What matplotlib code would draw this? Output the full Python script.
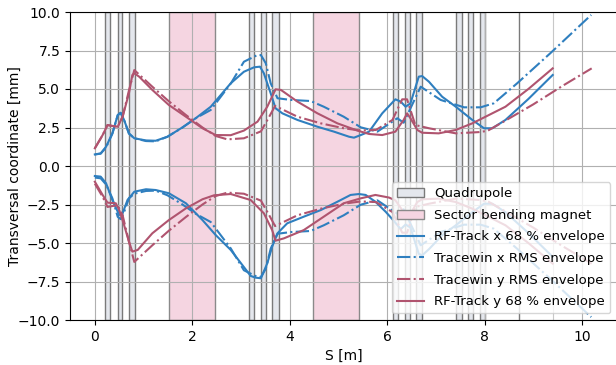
import matplotlib
matplotlib.use("Agg")
import matplotlib.pyplot as plt
import numpy as np

# element positions along the line [m]
quad_start = [0.21, 0.47, 0.70, 3.17, 3.41, 3.64, 6.12, 6.37, 6.60, 7.42, 7.67, 7.90, 8.71]
quad_end = [0.31, 0.55, 0.82, 3.27, 3.51, 3.78, 6.22, 6.46, 6.71, 7.53, 7.76, 8.01, 8.71]
bend_start = [1.52, 4.47]
bend_end = [2.46, 5.42]

# RF-Track x, 68 % envelope (upper / lower)
rfx_up_s = [0.0, 0.12, 0.23, 0.36, 0.47, 0.53, 0.60, 0.70, 0.81, 1.05, 1.25, 1.49, 1.80, 2.07, 2.38,
            2.79, 3.06, 3.27, 3.39, 3.47, 3.61, 3.71, 3.85, 4.16, 4.57, 4.91, 5.22, 5.32, 5.46, 5.63,
            5.90, 6.17, 6.28, 6.38, 6.48, 6.65, 6.72, 6.86, 7.13, 7.41, 7.75, 7.99, 8.16, 8.43, 8.90, 9.40]
rfx_up = [0.75, 0.82, 1.25, 2.12, 3.31, 3.46, 2.99, 2.12, 1.80, 1.66, 1.64, 1.90, 2.51, 3.10, 3.85,
          5.37, 6.12, 6.41, 6.45, 6.02, 4.72, 3.75, 3.42, 2.99, 2.55, 2.23, 1.90, 1.84, 2.01, 2.23,
          3.42, 4.33, 4.18, 3.85, 4.07, 5.80, 5.84, 5.47, 4.50, 3.85, 2.99, 2.45, 2.45, 2.99, 4.35, 5.91]
rfx_lo_s = [0.0, 0.12, 0.23, 0.36, 0.50, 0.57, 0.67, 0.81, 1.05, 1.25, 1.52, 1.87, 2.21, 2.48, 2.79,
            3.20, 3.30, 3.41, 3.54, 3.64, 3.75, 3.95, 4.29, 4.64, 4.98, 5.25, 5.42, 5.56, 5.76, 5.97,
            6.11, 6.28, 6.38, 6.48, 6.65, 6.72, 6.86, 7.13, 7.41, 7.75, 7.99, 8.16, 8.43, 8.90, 9.40]
rfx_lo = [-0.65, -0.69, -1.12, -2.21, -3.18, -3.07, -2.21, -1.67, -1.51, -1.56, -1.77, -2.42, -3.51, -4.48, -5.45,
          -7.14, -7.25, -7.29, -6.32, -5.24, -4.37, -3.72, -3.29, -2.86, -2.32, -1.88, -1.82, -1.88, -2.32, -2.97,
          -3.46, -4.10, -3.80, -4.00, -5.70, -5.80, -5.40, -4.50, -3.85, -3.00, -2.45, -2.45, -3.00, -4.35, -5.90]

# Tracewin x, RMS envelope (symmetric)
twx_s = [0.0, 0.12, 0.23, 0.36, 0.47, 0.53, 0.60, 0.70, 0.81, 1.05, 1.25, 1.49, 1.80, 2.07, 2.38,
         2.79, 3.06, 3.34, 3.41, 3.51, 3.61, 3.75, 4.02, 4.43, 4.70, 5.11, 5.46, 5.80, 6.21, 6.34,
         6.69, 7.10, 7.58, 7.92, 8.19, 8.67, 9.35, 10.19]
twx = [0.75, 0.80, 1.20, 2.10, 3.30, 3.45, 3.00, 2.10, 1.80, 1.62, 1.60, 1.90, 2.50, 3.10, 3.64,
       5.35, 6.77, 7.21, 7.20, 6.67, 5.37, 4.40, 4.29, 4.22, 3.85, 3.20, 2.51, 2.23, 3.10, 2.81,
       5.15, 4.29, 3.81, 3.81, 4.07, 5.37, 7.32, 9.81]

# Tracewin y, RMS envelope (symmetric)
twy_s = [0.0, 0.16, 0.26, 0.36, 0.47, 0.57, 0.70, 0.81, 1.18, 1.52, 1.87, 2.21, 2.48, 2.72, 3.06,
         3.41, 3.58, 3.70, 3.80, 4.16, 4.64, 5.11, 5.46, 5.77, 6.11, 6.31, 6.41, 6.48, 6.58, 6.86,
         7.41, 7.88, 8.06, 8.43, 9.00, 9.60, 10.20]
twy = [1.15, 2.00, 2.66, 2.60, 2.55, 3.20, 4.90, 6.23, 5.15, 4.20, 3.31, 2.50, 1.95, 1.73, 1.80,
       2.25, 3.20, 3.90, 3.75, 3.20, 2.77, 2.45, 2.30, 2.34, 2.99, 4.33, 4.33, 3.64, 2.66, 2.45,
       2.12, 2.20, 2.28, 2.95, 4.00, 5.20, 6.34]

# RF-Track y, 68 % envelope (upper / lower)
rfy_up_s = [0.0, 0.16, 0.26, 0.36, 0.47, 0.57, 0.70, 0.77, 0.81, 0.91, 1.18, 1.52, 1.87, 2.21, 2.48,
            2.79, 3.06, 3.34, 3.54, 3.71, 3.82, 4.16, 4.57, 4.98, 5.39, 5.63, 5.90, 6.17, 6.34, 6.41,
            6.48, 6.62, 6.72, 7.06, 7.41, 7.75, 8.09, 8.43, 8.90, 9.40]
rfy_up = [1.15, 2.01, 2.66, 2.60, 2.55, 3.20, 4.72, 5.91, 6.02, 5.80, 4.94, 3.96, 3.20, 2.45, 2.01,
          2.00, 2.30, 2.88, 3.85, 4.98, 4.94, 4.18, 3.42, 2.77, 2.30, 2.08, 2.01, 2.23, 2.99, 3.42,
          3.10, 2.34, 2.16, 2.12, 2.34, 2.77, 3.31, 3.85, 5.00, 6.34]
rfy_lo_s = [0.0, 0.16, 0.26, 0.43, 0.50, 0.60, 0.70, 0.77, 0.88, 1.18, 1.52, 1.87, 2.21, 2.45, 2.79,
            3.20, 3.47, 3.64, 3.71, 3.88, 4.29, 4.70, 5.11, 5.46, 5.76, 6.04, 6.17, 6.34, 6.41, 6.48,
            6.62, 6.72, 7.06, 7.41, 7.75, 8.09, 8.43, 8.90, 9.40]
rfy_lo = [-1.02, -1.88, -2.38, -2.42, -2.86, -3.83, -4.91, -5.56, -5.45, -4.37, -3.51, -2.75, -2.16, -1.90, -1.82,
          -2.21, -3.07, -4.16, -4.85, -4.70, -4.16, -3.29, -2.42, -2.10, -1.88, -2.05, -2.23, -2.99, -3.42, -3.10,
          -2.34, -2.16, -2.12, -2.34, -2.77, -3.31, -3.85, -5.00, -6.34]

blue = "#2f7fbf"
pink = "#b0546f"

fig = plt.figure(figsize=(6.16, 3.65), dpi=100)
ax = fig.add_axes([70 / 616, 45 / 365, 547 / 616, 308 / 365])

for i, (a, b) in enumerate(zip(quad_start, quad_end)):
    ax.axvspan(a, b, facecolor="#e4e7ed", edgecolor="#7a7a7a", linewidth=1.0,
               label="Quadrupole" if i == 0 else None)
for i, (a, b) in enumerate(zip(bend_start, bend_end)):
    ax.axvspan(a, b, facecolor="#f5d5e1", edgecolor="#8a8a8a", linewidth=1.0,
               label="Sector bending magnet" if i == 0 else None)
ax.axvline(9.41, color="#c8c8c8", linewidth=0.8, zorder=1)

lw = 1.5
ax.plot(rfx_up_s, rfx_up, color=blue, lw=lw, label="RF-Track x 68 % envelope")
ax.plot(rfx_lo_s, rfx_lo, color=blue, lw=lw)
ax.plot(twx_s, twx, color=blue, lw=lw, ls="-.", label="Tracewin x RMS envelope")
ax.plot(twx_s, -np.array(twx), color=blue, lw=lw, ls="-.")
ax.plot(twy_s, twy, color=pink, lw=lw, ls="-.", label="Tracewin y RMS envelope")
ax.plot(twy_s, -np.array(twy), color=pink, lw=lw, ls="-.")
ax.plot(rfy_up_s, rfy_up, color=pink, lw=lw, label="RF-Track y 68 % envelope")
ax.plot(rfy_lo_s, rfy_lo, color=pink, lw=lw)

ax.set_xlim(-0.51, 10.72)
ax.set_ylim(-10, 10)
ax.set_yticks(np.arange(-10, 10.1, 2.5))
ax.grid(True, color="#b0b0b0", linewidth=0.8)
ax.set_xlabel("S [m]")
ax.set_ylabel("Transversal coordinate [mm]")
ax.yaxis.set_label_coords(-0.088, 0.5)
ax.legend(loc="lower right", framealpha=0.8, fontsize=9.5, labelspacing=0.65)

fig.savefig("out.png", dpi=100)
